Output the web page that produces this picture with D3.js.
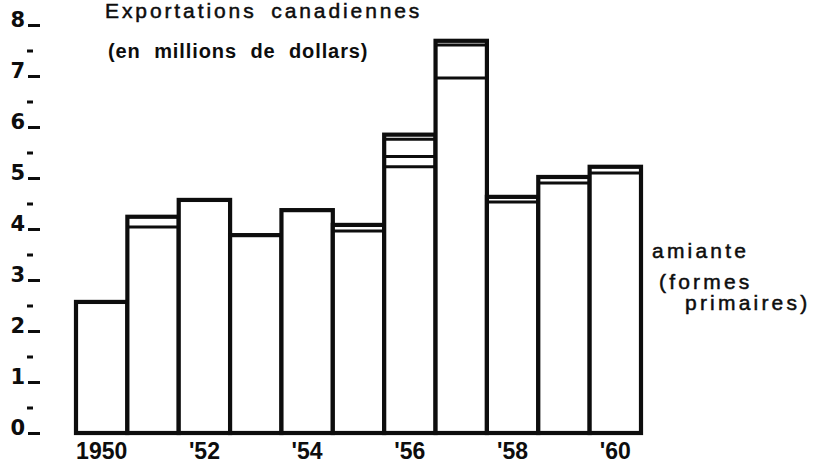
<!DOCTYPE html>
<html>
<head>
<meta charset="utf-8">
<script src="https://cdn.jsdelivr.net/npm/d3@7"></script>
<style>
  html, body { margin: 0; padding: 0; background: #fff; }
  svg { display: block; }
</style>
</head>
<body>
<svg id="chart" width="819" height="467"></svg>
<script>
// ---- data ----
const years = [1950, 1951, 1952, 1953, 1954, 1955, 1956, 1957, 1958, 1959, 1960];
// main series: amiante (formes primaires), millions of dollars
const amiante = [2.57, 4.04, 4.57, 3.88, 4.37, 3.96, 5.22, 6.96, 4.53, 4.90, 5.10];
// additional stacked segments drawn above it
const segment2 = [0, 0.20, 0, 0, 0, 0.12, 0.20, 0.65, 0.10, 0.12, 0.12];
const segment3 = [0, 0, 0, 0, 0, 0, 0.34, 0.08, 0, 0, 0];
const segment4 = [0, 0, 0, 0, 0, 0, 0.09, 0, 0, 0, 0];
const yTicks = [0, 1, 2, 3, 4, 5, 6, 7, 8];
const yMinorTicks = [0.5, 1.5, 2.5, 3.5, 4.5, 5.5, 6.5, 7.5];
const xTickYears = [1950, 1952, 1954, 1956, 1958, 1960];
const title = "Exportations canadiennes";
const subtitle = "(en millions de dollars)";
const sideLabel = ["amiante", "(formes", "primaires)"];

// ---- drawing ----
const ink = "#0d0d0d";
const svg = d3.select("#chart");
const x = d3.scaleBand().domain(years).range([76, 641]).padding(0);
const y = d3.scaleLinear().domain([0, 8]).range([433, 25]);

const series = [amiante, segment2, segment3, segment4];
const stacks = years.map((yr, i) => {
  let acc = 0;
  const bounds = [];
  series.forEach(s => { if (s[i] > 0) { acc += s[i]; bounds.push(acc); } });
  return { year: yr, bounds };
});

const bars = svg.append("g");
stacks.forEach(d => {
  const total = d.bounds[d.bounds.length - 1];
  bars.append("rect")
    .attr("x", x(d.year)).attr("width", x.bandwidth())
    .attr("y", y(total)).attr("height", y(0) - y(total))
    .attr("fill", "#fff").attr("stroke", ink).attr("stroke-width", 4.2);
});
stacks.forEach(d => {
  d.bounds.slice(0, -1).forEach(b => {
    bars.append("line")
      .attr("x1", x(d.year)).attr("x2", x(d.year) + x.bandwidth())
      .attr("y1", y(b)).attr("y2", y(b))
      .attr("stroke", ink).attr("stroke-width", 3);
  });
});

// Y axis: major ticks with labels
const yAxis = svg.append("g").attr("transform", "translate(40,0)")
  .call(d3.axisLeft(y).tickValues(yTicks).tickSize(12).tickPadding(3).tickFormat(d3.format("d")));
yAxis.select(".domain").remove();
yAxis.selectAll(".tick line").attr("stroke", ink).attr("stroke-width", 3);
yAxis.selectAll(".tick text")
  .attr("dy", "0.05em")
  .attr("fill", ink)
  .style("font-family", "'DejaVu Sans', sans-serif")
  .style("font-weight", "bold")
  .style("font-size", "21px");

// minor half ticks
const yMinor = svg.append("g").attr("transform", "translate(33,0)")
  .call(d3.axisLeft(y).tickValues(yMinorTicks).tickSize(6).tickFormat(""));
yMinor.select(".domain").remove();
yMinor.selectAll(".tick line").attr("stroke", ink).attr("stroke-width", 3);

// X axis
const xAxis = svg.append("g").attr("transform", "translate(0,433)")
  .call(d3.axisBottom(x).tickValues(xTickYears).tickSize(0).tickPadding(10)
    .tickFormat(d => d === 1950 ? "1950" : "'" + String(d).slice(2)));
xAxis.select(".domain").remove();
xAxis.selectAll(".tick text")
  .attr("fill", ink)
  .style("font-family", "'Liberation Sans', Arial, sans-serif")
  .style("font-weight", "bold")
  .style("font-size", "23px");

// Titles
svg.append("text").attr("x", 105).attr("y", 18)
  .text(title)
  .attr("fill", ink)
  .attr("stroke", ink).attr("stroke-width", 0.5)
  .style("font-family", "'Liberation Sans', Arial, sans-serif")
  .style("font-size", "21px")
  .style("letter-spacing", "2.9px")
  .style("word-spacing", "6px");
svg.append("text").attr("x", 108).attr("y", 58)
  .text(subtitle)
  .attr("fill", ink)
  .style("font-family", "'Liberation Sans', Arial, sans-serif")
  .style("font-size", "20px")
  .style("font-weight", "bold")
  .style("letter-spacing", "0.9px")
  .style("word-spacing", "7px");

// Side label
const side = svg.append("g")
  .attr("fill", ink)
  .attr("stroke", ink).attr("stroke-width", 0.5)
  .style("font-family", "'Liberation Sans', Arial, sans-serif")
  .style("font-size", "21px")
  .style("letter-spacing", "3.2px");
side.append("text").attr("x", 652).attr("y", 258).text(sideLabel[0]);
side.append("text").attr("x", 659).attr("y", 289).text(sideLabel[1]);
side.append("text").attr("x", 685).attr("y", 310).text(sideLabel[2]);
</script>
</body>
</html>
